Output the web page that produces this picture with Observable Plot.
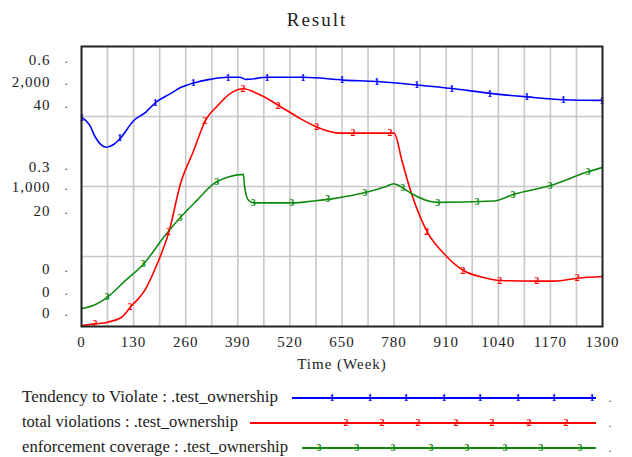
<!DOCTYPE html>
<html>
<head>
<meta charset="utf-8">
<script src="https://cdn.jsdelivr.net/npm/d3@7"></script>
<script src="https://cdn.jsdelivr.net/npm/@observablehq/plot@0.6"></script>
<style>
  html, body { margin: 0; padding: 0; background: #fff; }
  body { width: 632px; height: 457px; overflow: hidden; font-family: serif; }
  svg { display: block; }
  #title { height: 36px; line-height: 40px; text-align: center; font-family: serif; font-size: 19px; letter-spacing: 2px; color: #222; padding-left: 2px; }
</style>
</head>
<body>
<div id="title">Result</div>
<div id="chart"></div>
<div id="legend"></div>
<script>
// ---------- data ----------
const xLabel = "Time (Week)";
const weekTicks = [0, 130, 260, 390, 520, 650, 780, 910, 1040, 1170, 1300];

const seriesNames = [
  "Tendency to Violate : .test_ownership",
  "total violations : .test_ownership",
  "enforcement coverage : .test_ownership"
];
const seriesColors = ["#0000ff", "#ff0000", "#108a10"];
const seriesGlyphs = ["1", "2", "3"];
const seriesMax = [40, 2000, 0.6];

// Tendency to Violate (scale 0..40)
const tendencyWeeks  = [0, 20, 35, 50, 62, 80, 97, 130, 160, 185, 220, 250, 280, 320, 364, 395, 410, 464, 554, 654, 738, 838, 925, 1020, 1112, 1203, 1300];
const tendencyValues = [29.9, 28.8, 27.0, 25.9, 25.6, 26.0, 26.9, 29.4, 30.6, 32.0, 33.2, 34.2, 34.8, 35.3, 35.6, 35.6, 35.3, 35.6, 35.6, 35.2, 35.0, 34.5, 34.0, 33.3, 32.8, 32.4, 32.3];

// total violations (scale 0..2000)
const violationWeeks  = [0, 35, 65, 100, 122, 160, 189, 218, 247, 280, 309, 340, 370, 404, 440, 492, 540, 588, 646, 700, 780, 800, 821, 863, 904, 953, 1000, 1045, 1137, 1180, 1238, 1300];
const violationValues = [7, 19, 31, 66, 138, 269, 448, 674, 1019, 1257, 1471, 1579, 1662, 1698, 1662, 1579, 1495, 1424, 1381, 1381, 1381, 1180, 971, 674, 521, 400, 352, 329, 324, 324, 345, 357];

// enforcement coverage (scale 0..0.6)
const coverageWeeks  = [0, 35, 65, 110, 155, 205, 247, 290, 330, 364, 404, 407, 417, 430, 529, 579, 629, 713, 760, 779, 800, 821, 888, 1029, 1078, 1170, 1262, 1300];
const coverageValues = [0.038, 0.047, 0.063, 0.099, 0.134, 0.191, 0.234, 0.272, 0.306, 0.320, 0.326, 0.299, 0.270, 0.265, 0.265, 0.269, 0.274, 0.288, 0.300, 0.306, 0.298, 0.286, 0.266, 0.269, 0.283, 0.302, 0.331, 0.341];

// marker weeks along each line
const tendencyMarkerWeeks  = [2, 97, 185, 280, 367, 464, 554, 651, 738, 838, 925, 1020, 1112, 1203, 1300];
const violationMarkerWeeks = [35, 122, 218, 309, 404, 492, 588, 679, 771, 863, 953, 1045, 1137, 1238];
const coverageMarkerWeeks  = [65, 155, 247, 339, 430, 526, 616, 708, 803, 890, 988, 1078, 1170, 1265];

// y tick labels per series (bottom, middle, top)
const coverageTickLabels  = ["0", "0.3", "0.6"];
const violationTickLabels = ["0", "1,000", "2,000"];
const tendencyTickLabels  = ["0", "20", "40"];

// ---------- build ----------
const FONT = "serif";
const weeksList = [tendencyWeeks, violationWeeks, coverageWeeks];
const valuesList = [tendencyValues, violationValues, coverageValues];
const markerList = [tendencyMarkerWeeks, violationMarkerWeeks, coverageMarkerWeeks];

const series = weeksList.map((ws, i) =>
  ws.map((w, j) => ({week: w, frac: valuesList[i][j] / seriesMax[i]})));

function fracAt(data, w) {
  const k = d3.bisector(d => d.week).left(data, w);
  if (k <= 0) return data[0].frac;
  if (k >= data.length) return data[data.length - 1].frac;
  const a = data[k - 1], b = data[k];
  return a.frac + (b.frac - a.frac) * (w - a.week) / (b.week - a.week);
}
const markers = markerList.map((ms, i) => ms.map(w => ({week: w, frac: fracAt(series[i], w)})));

// y label layout: label stack order top->bottom is coverage, violations, tendency
const tickFracs = [0, 0.5, 1];
const labelSets = [coverageTickLabels, violationTickLabels, tendencyTickLabels];
const stackOffsets = [ // pixel offsets from tick, by tick index then stack row
  [-57, -34, -13],
  [-19, 1, 25],
  [14, 36, 59]
];
const yLabelMarks = [];
tickFracs.forEach((f, ti) => {
  labelSets.forEach((labels, si) => {
    yLabelMarks.push(Plot.text([f], {
      y: d => d, frameAnchor: "left", text: () => labels[ti],
      dx: -31, dy: stackOffsets[ti][si], textAnchor: "end",
      fontSize: 15, fill: "#222", fontFamily: FONT
    }));
    yLabelMarks.push(Plot.text([f], {
      y: d => d, frameAnchor: "left", text: () => ".",
      dx: -15, dy: stackOffsets[ti][si] - 2, textAnchor: "middle",
      fontSize: 13, fill: "#444", fontFamily: FONT
    }));
  });
});

const chart = Plot.plot({
  width: 632,
  height: 349,
  marginLeft: 81,
  marginRight: 30,
  marginTop: 10,
  marginBottom: 59,
  style: {fontFamily: FONT, background: "#fff", color: "#222", letterSpacing: "1px"},
  x: {domain: [0, 1300]},
  y: {domain: [0, 1], axis: null},
  marks: [
    Plot.ruleX(d3.range(65, 1300, 65), {stroke: "#c8c8c8", strokeWidth: 1.6}),
    Plot.ruleY([0.25, 0.5, 0.75], {stroke: "#c8c8c8", strokeWidth: 1.6}),
    ...series.map((data, i) => Plot.line(data, {
      x: "week", y: "frac", stroke: seriesColors[i], strokeWidth: 1.6, curve: "monotone-x"
    })),
    ...markers.map((data, i) => Plot.text(data, {
      x: "week", y: "frac", text: () => seriesGlyphs[i], fill: seriesColors[i],
      fontSize: 10, fontWeight: "bold", fontFamily: FONT
    })),
    Plot.frame({stroke: "#222", strokeWidth: 2}),
    Plot.axisX(weekTicks, {tickSize: 0, tickPadding: 10, fontSize: 15, label: null, fontFamily: FONT, tickFormat: d => String(d)}),
    Plot.text([xLabel], {frameAnchor: "bottom", dy: 42, fontSize: 15, fontFamily: FONT, fill: "#222"}),
    ...yLabelMarks
  ]
});
document.getElementById("chart").appendChild(chart);

// legend
const legendRows = [
  {y: 13, textLen: 256, lineStart: 292, marks: [332, 370, 406, 444, 480, 518, 554, 592]},
  {y: 38, textLen: 216, lineStart: 250, marks: [346, 382, 418, 456, 492, 529, 566]},
  {y: 63, textLen: 266, lineStart: 302, marks: [319, 357, 393, 431, 467, 505, 541, 580]}
];
const lsvg = d3.select("#legend").append("svg").attr("width", 632).attr("height", 72);
legendRows.forEach((r, i) => {
  lsvg.append("text").attr("x", 22).attr("y", r.y)
    .attr("dominant-baseline", "middle").attr("font-family", FONT).attr("font-size", 16)
    .attr("fill", "#222").attr("textLength", r.textLen).attr("lengthAdjust", "spacingAndGlyphs")
    .text(seriesNames[i]);
  lsvg.append("line").attr("x1", r.lineStart).attr("x2", 596).attr("y1", r.y).attr("y2", r.y)
    .attr("stroke", seriesColors[i]).attr("stroke-width", 1.8);
  r.marks.forEach(mx => {
    lsvg.append("text").attr("x", mx).attr("y", r.y + 1)
      .attr("text-anchor", "middle").attr("dominant-baseline", "middle")
      .attr("font-family", FONT).attr("font-size", 10).attr("font-weight", "bold")
      .attr("fill", seriesColors[i]).text(seriesGlyphs[i]);
  });
  lsvg.append("text").attr("x", 610).attr("y", r.y + 4).attr("text-anchor", "middle")
    .attr("font-family", FONT).attr("font-size", 12).attr("fill", "#555").text(".");
});
</script>
</body>
</html>
